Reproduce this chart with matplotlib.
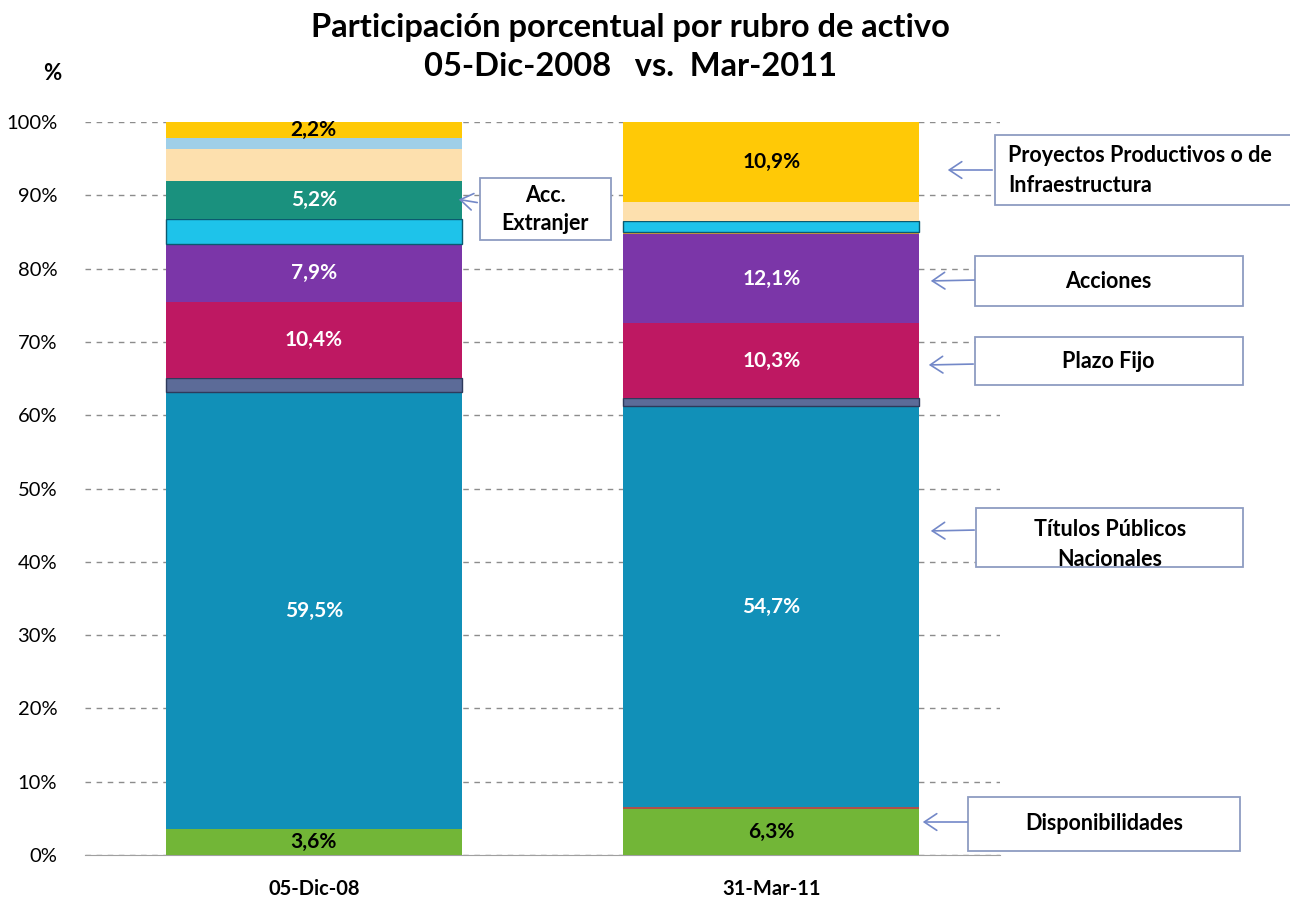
import matplotlib
matplotlib.use("Agg")
import matplotlib.pyplot as plt
from matplotlib.patches import Rectangle, FancyArrowPatch
import numpy as np

plt.rcParams['font.family'] = ['Lato', 'DejaVu Sans']

# ---------------- data ----------------
categories = ['05-Dic-08', '31-Mar-11']
# stacked from bottom to top
disponibilidades = [3.6, 6.3]
otros_rojo = [0.0, 0.2]
titulos_publicos = [59.5, 54.7]
otros_pizarra = [2.0, 1.1]
plazo_fijo = [10.4, 10.3]
acciones = [7.9, 12.1]
otros_naranja = [0.0, 0.3]
otros_cian = [3.4, 1.5]
acc_extranjeras = [5.2, 0.0]
otros_durazno = [4.3, 2.6]
otros_celeste = [1.5, 0.0]
proyectos = [2.2, 10.9]

series = [disponibilidades, otros_rojo, titulos_publicos, otros_pizarra, plazo_fijo,
          acciones, otros_naranja, otros_cian, acc_extranjeras, otros_durazno,
          otros_celeste, proyectos]
colors = ['#72B637', '#B0504A', '#1190B8', '#5C6B98', '#BE1862',
          '#7B36A8', '#E8A030', '#1EC3EA', '#1A917E', '#FDE0AE',
          '#9FCFE8', '#FFC906']
edges = [None, None, None, '#2E3A5C', None, None, None, '#0A5A70', None, None, None, None]
# labels: (series index, bar index) -> text, color
labels = {
    (0, 0): ('3,6%', 'black'), (0, 1): ('6,3%', 'black'),
    (2, 0): ('59,5%', 'white'), (2, 1): ('54,7%', 'white'),
    (4, 0): ('10,4%', 'white'), (4, 1): ('10,3%', 'white'),
    (5, 0): ('7,9%', 'white'), (5, 1): ('12,1%', 'white'),
    (8, 0): ('5,2%', 'white'),
    (11, 0): ('2,2%', 'black'), (11, 1): ('10,9%', 'black'),
}

fig = plt.figure(figsize=(12.9, 9.02), dpi=100)
ax = fig.add_axes([85 / 1290, 1 - 855 / 902, 915 / 1290, 733 / 902])

x = np.arange(len(categories))
bottom = np.zeros(len(categories))
for i, (vals, c) in enumerate(zip(series, colors)):
    vals = np.array(vals, dtype=float)
    ec = edges[i] if edges[i] else c
    lw = 1.0 if edges[i] else 0
    ax.bar(x, vals, bottom=bottom, width=0.647, color=c, edgecolor=ec, linewidth=lw, zorder=3)
    for j in range(len(categories)):
        if (i, j) in labels:
            txt, tc = labels[(i, j)]
            ax.text(x[j], bottom[j] + vals[j] / 2, txt, ha='center', va='center',
                    color=tc, fontsize=15, fontweight='bold', zorder=5)
    bottom += vals

ax.set_xlim(-0.5, 1.5)
ax.set_ylim(0, 100)
ax.set_yticks(np.arange(0, 101, 10))
ax.set_yticklabels([f'{v}%' for v in range(0, 101, 10)], fontsize=14.5)
ax.set_xticks(x)
ax.set_xticklabels(categories, fontsize=14.5, fontweight='bold')
ax.tick_params(axis='y', length=0, pad=20)
ax.tick_params(axis='x', length=0, pad=17)
ax.yaxis.grid(True, linestyle=(0, (4, 4)), color='#8C8C8C', linewidth=1, zorder=0)
ax.set_axisbelow(True)
for s in ['top', 'right', 'left']:
    ax.spines[s].set_visible(False)
ax.spines['bottom'].set_color('#A0A0A0')

# ---------------- overlay for title and callouts ----------------
ov = fig.add_axes([0, 0, 1, 1], facecolor='none')
ov.set_xlim(0, 1290)
ov.set_ylim(902, 0)
ov.axis('off')

ov.text(630, 27, 'Participación porcentual por rubro de activo', ha='center', va='center',
        fontsize=23.5, fontweight='bold')
ov.text(630, 67, '05-Dic-2008   vs.  Mar-2011', ha='center', va='center',
        fontsize=23.5, fontweight='bold')
ov.text(52, 73, '%', ha='center', va='center', fontsize=16, fontweight='bold')

box_ec = '#8E9CC2'
arrow_c = '#7388C8'
callouts = [
    # (x0, y0, x1, y1, lines, text_x, text_align, arrow_from, arrow_to)
    (995, 135, 1300, 205, ['Proyectos Productivos o de', 'Infraestructura'], 1008, 'left', (995, 170), (945, 170)),
    (480, 178, 611, 240, ['Acc.', 'Extranjer'], 545, 'center', (480, 203), (456, 199)),
    (975, 256, 1243, 306, ['Acciones'], 1108, 'center', (977, 280), (928, 281)),
    (975, 337, 1243, 385, ['Plazo Fijo'], 1108, 'center', (976, 364), (926, 365)),
    (976, 508, 1243, 567, ['Títulos Públicos', 'Nacionales'], 1110, 'center', (977, 530), (928, 531)),
    (968, 797, 1240, 851, ['Disponibilidades'], 1104, 'center', (970, 822), (920, 822)),
]
for (x0, y0, x1, y1, lines, tx, al, af, at) in callouts:
    ov.add_patch(Rectangle((x0, y0), x1 - x0, y1 - y0, facecolor='white', edgecolor=box_ec,
                           linewidth=1.3, zorder=4))
    if len(lines) == 1:
        ys = [(y0 + y1) / 2]
    else:
        ys = [(y0 + y1) / 2 - 14, (y0 + y1) / 2 + 15]
    if lines[0].startswith('Títulos'):
        ys = [530, 559]
    for ln, yy in zip(lines, ys):
        ov.text(tx, yy, ln, ha=al, va='center', fontsize=15.5, fontweight='bold', zorder=6)
    ov.add_patch(FancyArrowPatch(af, at, arrowstyle='->,head_length=6,head_width=4',
                                 color=arrow_c, linewidth=1.2, mutation_scale=1.5, zorder=6))

fig.savefig('out.png', dpi=100)
